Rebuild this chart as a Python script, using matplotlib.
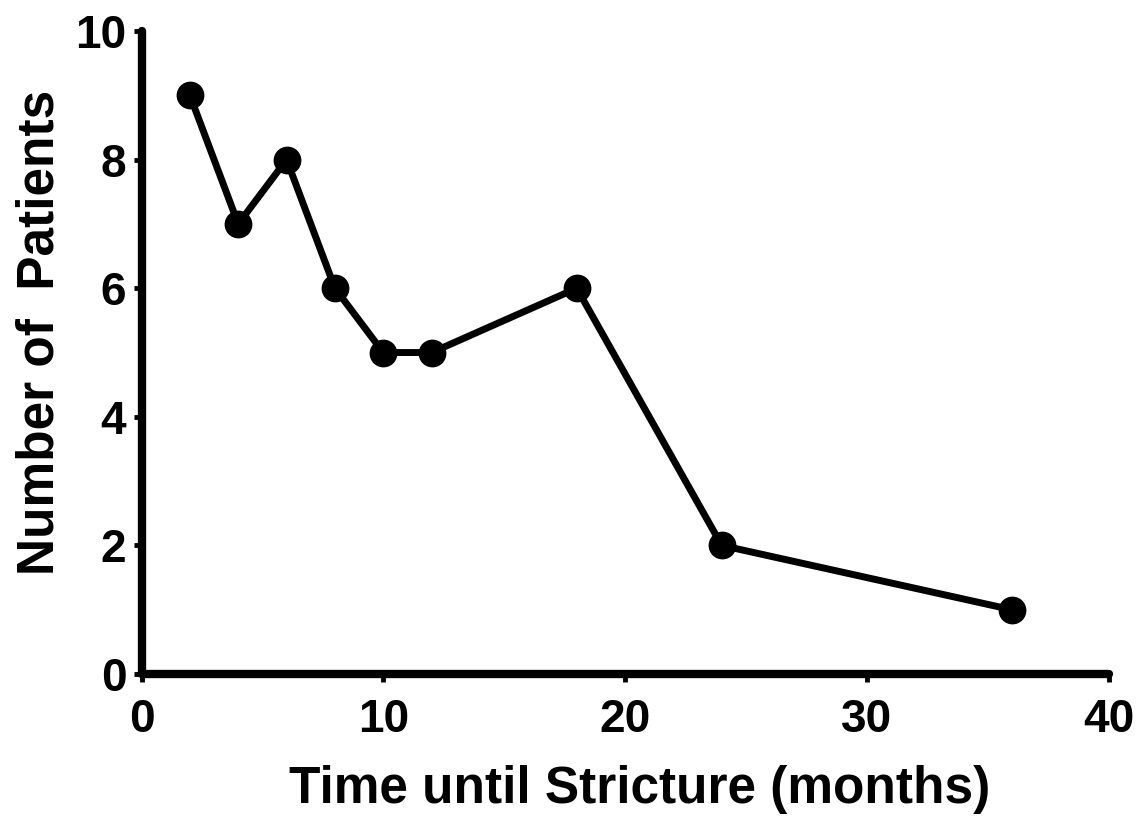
import matplotlib
matplotlib.use("Agg")
import matplotlib.pyplot as plt

months = [2, 4, 6, 8, 10, 12, 18, 24, 36]
patients = [9, 7, 8, 6, 5, 5, 6, 2, 1]
x_ticks = [0, 10, 20, 30, 40]
y_ticks = [0, 2, 4, 6, 8, 10]

plt.rcParams['font.family'] = ['Liberation Sans', 'DejaVu Sans']
plt.rcParams['font.weight'] = 'bold'

fig = plt.figure(figsize=(11.47, 8.23), dpi=100)
ax = fig.add_axes([0.1234, 0.1810, 0.8431, 0.7813])
ax.plot(months, patients, color='black', lw=5, marker='o', ms=19, clip_on=False, zorder=3)
ax.set_xlim(0, 40)
ax.set_ylim(0, 10)
ax.set_xticks(x_ticks)
ax.set_yticks(y_ticks)
for s in ['top', 'right']:
    ax.spines[s].set_visible(False)
for s in ['left', 'bottom']:
    ax.spines[s].set_linewidth(6)
    ax.spines[s].set_capstyle('round')
ax.tick_params(width=3.5, length=6, labelsize=33)
ax.tick_params(axis='x', pad=11)
ax.tick_params(axis='y', pad=5)
for lab in ax.get_xticklabels() + ax.get_yticklabels():
    lab.set_fontweight('bold')
ax.set_xlabel('Time until Stricture (months)', fontsize=37, fontweight='bold')
ax.set_ylabel('Number of  Patients', fontsize=37, fontweight='bold')
ax.xaxis.set_label_coords(0.5155, -0.142)
ax.yaxis.set_label_coords(-0.08, 0.532)
fig.savefig('out.png', dpi=100)
